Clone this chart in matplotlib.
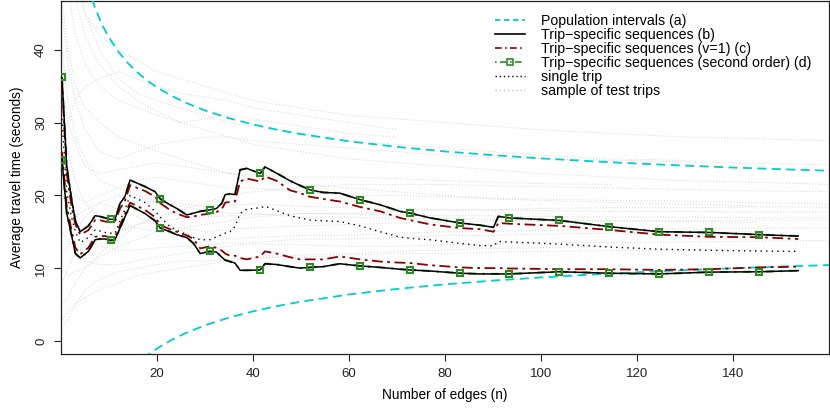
import numpy as np
import matplotlib
matplotlib.use("Agg")
import matplotlib.pyplot as plt

# --- CONFIGURATION ---
OUTPUT_IMAGE_FILE = "out.png"
plt.rcParams['font.family'] = ['Liberation Sans', 'DejaVu Sans']

# x positions (number of edges) where the main curves were read
grid_x = [0.2, 1.2, 2.2, 3.0, 4.0, 5.7, 7.1, 8.1, 9.2, 10.35, 11.25, 12.3, 13.3, 14.4,
          17.5, 19.6, 20.7, 22.7, 24.1, 26.2, 27.6, 29.0, 31.0, 32.4, 33.5, 34.2,
          35.2, 36.25, 37.3, 38.7, 41.5, 42.5, 44.9, 47.7, 49.8, 51.9, 54.6, 58.1,
          62.3, 66.5, 70.6, 72.7, 76.9, 83.1, 87.3, 90.1, 91.1, 93.4, 103.8, 114.2,
          124.6, 135.0, 145.4, 153.6]

# (b) trip-specific sequences
b_upper = [36.2, 24.0, 19.5, 16.5, 15.0, 15.8, 17.2, 17.1, 16.9, 16.7, 16.7, 18.9, 19.8, 22.1,
           21.2, 20.5, 19.5, 18.7, 18.2, 17.3, 17.55, 17.8, 18.0, 18.2, 18.9, 20.1,
           20.2, 20.1, 23.5, 23.7, 23.0, 23.9, 23.05, 22.0, 21.35, 20.75, 20.4, 20.3,
           19.4, 18.7, 17.8, 17.55, 16.9, 16.2, 15.9, 15.6, 17.1, 16.9, 16.55, 15.7,
           15.0, 14.9, 14.6, 14.4]
b_lower = [24.9, 17.5, 14.5, 12.0, 11.4, 12.3, 13.9, 14.0, 14.0, 13.8, 13.9, 15.5, 17.0, 18.6,
           17.5, 16.5, 15.5, 15.0, 14.6, 14.2, 13.4, 12.0, 12.3, 12.2, 11.5, 11.1,
           10.9, 10.7, 9.7, 9.7, 9.75, 10.6, 10.5, 10.2, 10.0, 10.1, 10.2, 10.6,
           10.3, 10.1, 9.85, 9.75, 9.6, 9.3, 9.2, 9.2, 9.2, 9.2, 9.5, 9.3,
           9.2, 9.45, 9.5, 9.65]

# (c) trip-specific sequences, v=1
c_upper = [35.5, 23.0, 18.5, 16.0, 14.6, 15.2, 16.6, 16.6, 16.4, 16.3, 16.4, 18.2, 19.2, 21.4,
           20.6, 19.8, 18.9, 18.0, 17.5, 17.0, 17.1, 17.3, 17.5, 17.7, 18.1, 19.0,
           19.1, 19.15, 21.9, 22.3, 21.9, 22.6, 22.0, 20.7, 20.3, 19.8, 19.5, 19.15,
           18.4, 17.8, 16.9, 16.6, 16.0, 15.5, 15.35, 15.0, 16.2, 16.1, 15.8, 15.25,
           14.6, 14.3, 14.25, 14.0]
c_lower = [26.0, 18.5, 15.2, 12.8, 11.9, 12.8, 14.3, 14.4, 14.4, 14.2, 14.3, 15.9, 17.4, 19.0,
           18.0, 17.0, 15.9, 15.35, 15.0, 14.5, 14.0, 12.7, 13.0, 12.8, 12.4, 12.0,
           11.7, 11.7, 11.4, 11.2, 11.6, 12.3, 12.0, 11.5, 11.2, 11.2, 11.2, 11.6,
           11.2, 10.9, 10.75, 10.7, 10.4, 10.1, 10.0, 10.0, 10.0, 9.95, 9.85, 9.85,
           9.75, 9.85, 10.1, 10.2]

# (d) second order sequences (practically on top of (b))
d_upper = b_upper
d_lower = b_lower
marker_x = [0.2, 10.35, 20.7, 31.0, 41.5, 51.9, 62.3, 72.7, 83.1, 93.4, 103.8, 114.2,
            124.6, 135.0, 145.4]

# single trip
single_trip = [30.5, 20.5, 17.0, 15.0, 13.5, 14.2, 15.25, 15.1, 14.9, 14.8, 14.8, 16.5, 18.0, 20.0,
               19.0, 17.8, 17.0, 15.7, 15.2, 14.6, 14.2, 13.9, 13.9, 14.3, 14.6, 14.8,
               15.0, 15.7, 17.5, 18.1, 18.3, 18.5, 17.9, 17.2, 16.9, 16.6, 16.5, 16.4,
               15.8, 15.0, 14.25, 14.1, 13.9, 13.4, 13.1, 13.05, 13.65, 13.6, 13.3, 12.9,
               12.6, 12.45, 12.35, 12.3]

# (a) population intervals
pop_x = [4, 5, 6, 7, 8, 9, 10, 12, 14, 16, 18, 20, 23, 26, 30, 35, 40, 45, 50, 60, 70,
         80, 90, 100, 110, 120, 130, 140, 150, 160]
pop_upper = [53.66, 50.46, 47.97, 45.96, 44.3, 42.89, 41.68, 39.70, 38.12, 36.84, 35.76,
             34.84, 33.68, 32.72, 31.66, 30.6, 29.74, 29.02, 28.41, 27.42, 26.66, 26.03,
             25.52, 25.08, 24.70, 24.37, 24.08, 23.82, 23.59, 23.38]
pop_lower = [-19.86, -16.66, -14.17, -12.16, -10.5, -9.09, -7.88, -5.90, -4.32, -3.04, -1.96,
             -1.04, 0.12, 1.08, 2.14, 3.2, 4.06, 4.78, 5.39, 6.38, 7.14, 7.77, 8.28, 8.72,
             9.10, 9.43, 9.72, 9.98, 10.21, 10.42]

# sample of test trips (NaN where the trip has ended)
nan = np.nan
sample_x = [0.2, 1.5, 3, 5, 8, 12, 16, 20, 25, 30, 35, 40, 50, 60, 70, 80, 90, 100, 115,
            130, 145, 160]
sample_trips = [
    [80, 60, 50, 45, 42, 40, 38.5, 37, 36, 35, 34, 33, 32, 31, 30.5, 30, 29.5, 29, 28.5, 28, 27.8, 27.5],
    [70, 55, 47, 42, 38, 35, 33, 31.5, 30, 29, 28, 27, 26, 25, 24.5, 24, 23.5, 23, 22.5, 22, 21.8, 21.5],
    [47, 40, 35, 32, 30, 28, 27, 26, 25, 24, 23, 22.5, 21.5, 21, 20.5, 20, 19.5, 19.3, 19, 18.8, 18.5, nan],
    [5, 6, 8, 10, 11.5, 13, 14, 15, 15.5, 16, 16.5, 17, 17.5, 17.5, 17.8, 18, 18, 18.2, 18.3, 18.3, 18.4, 18.4],
    [2, 3, 5, 7, 8.5, 9.5, 10, 10.5, 11, 11, 11.2, 11.5, 11.5, 11.8, 12, 12, 12.2, 12.3, 12.4, 12.5, 12.5, nan],
    [30, 26, 22, 19, 17, 16, 15.5, 15, 14.5, 14, 14, 14.2, 14.5, 14.5, 14.8, 15, 15, 15.2, 15.3, 15.4, 15.5, 15.5],
    [40, 33, 28, 25, 22, 21, 20, 19, 18.5, 18, 17.5, 17.5, 17, 17, 16.8, 16.8, 16.7, 16.5, 16.5, 16.4, 16.3, nan],
    [15, 14, 12, 11, 10.5, 10.5, 11, 11.5, 12, 12.5, 13, 13.5, 14, 14, 14.2, 14.5, 14.5, 14.7, 14.8, 14.9, 15, nan],
    [25, 22, 20, 19, 20, 21, 22, 22.5, 22, 21.5, 21, 21, 20.5, 20, 20, 19.8, 19.6, 19.5, 19.3, 19.2, 19, 18.8],
    [10, 9, 9.5, 10, 12, 14, 16, 17, 18, 19, 20, 20.5, 21, 21.5, 21.5, 21.5, 21.3, 21.2, 21, 20.8, 20.6, 20.5],
    [60, 48, 42, 38, 35, 33, 32, 31, 30, 30.5, 31, 30.5, 29.5, 28.5, 28, nan, nan, nan, nan, nan, nan, nan],
    [20, 18, 16, 14, 13, 12.5, 12.5, 12.8, 13, 13.2, 13.5, 13.3, 13.2, 13, 13, 13.2, 13.3, 13.5, 13.5, 13.6, 13.7, 13.8],
    [35, 30, 27, 24, 23, 23.5, 24, 24.5, 24, 23.5, 23, 22.8, 22.5, 22.5, 22.3, 22, 21.8, 21.6, 21.5, nan, nan, nan],
    [8, 10, 12, 13, 14, 15, 16, 16.5, 16.8, 17, 17.2, 17.3, 17.5, 17.4, 17.3, 17.2, 17.2, 17.1, 17, 17, 16.9, 16.9],
    [45, 38, 33, 29, 26, 25, 26, 27, 27.5, 28, 28, 27.5, 27, 26.5, 26, 25.5, 25.2, 25, 24.8, 24.6, 24.4, 24.2],
    [3, 4, 5, 6, 7, 8, 9, 9.5, 10, 10.5, 11, 11.3, 11.8, 12, 12.3, 12.5, 12.7, 12.8, 13, nan, nan, nan],
    [90, 65, 52, 45, 40, 36, 34, 33, 32, 31, 30, 29.5, 28.5, 27.5, 27, 26.5, 26, 25.5, 25, 24.8, nan, nan],
    [18, 17, 17, 18, 19, 18, 17, 16, 15.5, 15, 15.3, 15.5, 15.8, 16, 16.2, 16.3, 16.4, 16.5, 16.5, 16.5, 16.6, 16.6],
    [12, 13, 15, 17, 19, 20, 19.5, 19, 18.8, 18.5, 18.7, 18.8, 18.5, 18.3, 18.2, 18, 18, 17.9, 17.8, 17.8, 17.7, 17.7],
    [28, 30, 33, 35, 36, 37, 36, 35, 34, 33.5, 33, 32, 31, 30, 29, nan, nan, nan, nan, nan, nan, nan],
]

x_ticks = [20, 40, 60, 80, 100, 120, 140]
y_ticks = [0, 10, 20, 30, 40]

CYAN = '#00CDCD'
DARKRED = '#8B0000'
GREEN = '#2E8B22'
GRAY = '#D2D2D2'


def main():
    fig = plt.figure(figsize=(8.3, 4.15), dpi=100)
    ax = fig.add_axes([61 / 830, 61 / 415, 768 / 830, 353 / 415])

    # sample of test trips
    for trip in sample_trips:
        ax.plot(sample_x, trip, color=GRAY, lw=0.7, ls=(0, (1, 2)), zorder=1)

    # population intervals
    ax.plot(pop_x, pop_upper, color=CYAN, lw=1.3, ls=(0, (5, 3)), zorder=3)
    ax.plot(pop_x, pop_lower, color=CYAN, lw=1.3, ls=(0, (5, 3)), zorder=3)

    # single trip
    ax.plot(grid_x, single_trip, color='black', lw=1.0, ls=(0, (1, 3)), zorder=3)

    # (d) underneath (b), markers on top
    mk_idx = [i for i, v in enumerate(grid_x) if v in marker_x]
    for ys in [d_upper, d_lower]:
        ax.plot(grid_x, ys, color=GREEN, lw=1.5, ls=(0, (4, 3, 1, 3)), zorder=4)
        ax.plot(np.array(grid_x)[mk_idx], np.array(ys)[mk_idx], ls='none', marker='s',
                ms=5, mfc='none', mec=GREEN, mew=1.5, zorder=7)

    # (c)
    ax.plot(grid_x, c_upper, color=DARKRED, lw=1.3, ls=(0, (6, 2.5, 1.5, 2.5)), zorder=5)
    ax.plot(grid_x, c_lower, color=DARKRED, lw=1.3, ls=(0, (6, 2.5, 1.5, 2.5)), zorder=5)

    # (b)
    ax.plot(grid_x, b_upper, color='black', lw=1.1, zorder=6)
    ax.plot(grid_x, b_lower, color='black', lw=1.1, zorder=6)

    # legend proxies
    h_a, = ax.plot([], [], color=CYAN, lw=1.3, ls=(0, (3, 2)))
    h_b, = ax.plot([], [], color='black', lw=1.2)
    h_c, = ax.plot([], [], color=DARKRED, lw=1.2, ls=(0, (4, 2, 1, 2)))
    h_d, = ax.plot([], [], color=GREEN, lw=1.2, ls=(0, (1, 2, 4, 2)), marker='s', ms=5,
                   mfc='none', mew=1.2)
    h_e, = ax.plot([], [], color='black', lw=1.0, ls=(0, (1, 2)))
    h_f, = ax.plot([], [], color='#BBBBBB', lw=1.0, ls=(0, (1, 2)))
    ax.legend([h_a, h_b, h_c, h_d, h_e, h_f],
              ['Population intervals (a)', 'Trip\u2212specific sequences (b)',
               'Trip\u2212specific sequences (v=1) (c)',
               'Trip\u2212specific sequences (second order) (d)', 'single trip',
               'sample of test trips'],
              loc='upper left', bbox_to_anchor=(0.565, 0.963), frameon=False, fontsize=10.2,
              handlelength=2.1, handletextpad=1.15, labelspacing=0.0, borderpad=0,
              borderaxespad=0)

    ax.set_xlim(0, 160)
    ax.set_ylim(-1.8, 46.7)
    ax.set_xticks(x_ticks)
    ax.set_yticks(y_ticks)
    ax.set_yticklabels([str(v) for v in y_ticks], rotation=90, va='center')
    ax.tick_params(direction='out', length=5, width=0.8, labelsize=9.5, colors='#222222')
    ax.tick_params(axis='x', pad=5)
    ax.tick_params(axis='y', pad=5)
    for sp in ax.spines.values():
        sp.set_linewidth(0.9)
        sp.set_color('#222222')

    ax.set_xlabel('Number of edges (n)', fontsize=9.8, labelpad=6)
    ax.set_ylabel('Average travel time (seconds)', fontsize=9.8, labelpad=8)

    fig.savefig(OUTPUT_IMAGE_FILE, dpi=100)


if __name__ == "__main__":
    main()
